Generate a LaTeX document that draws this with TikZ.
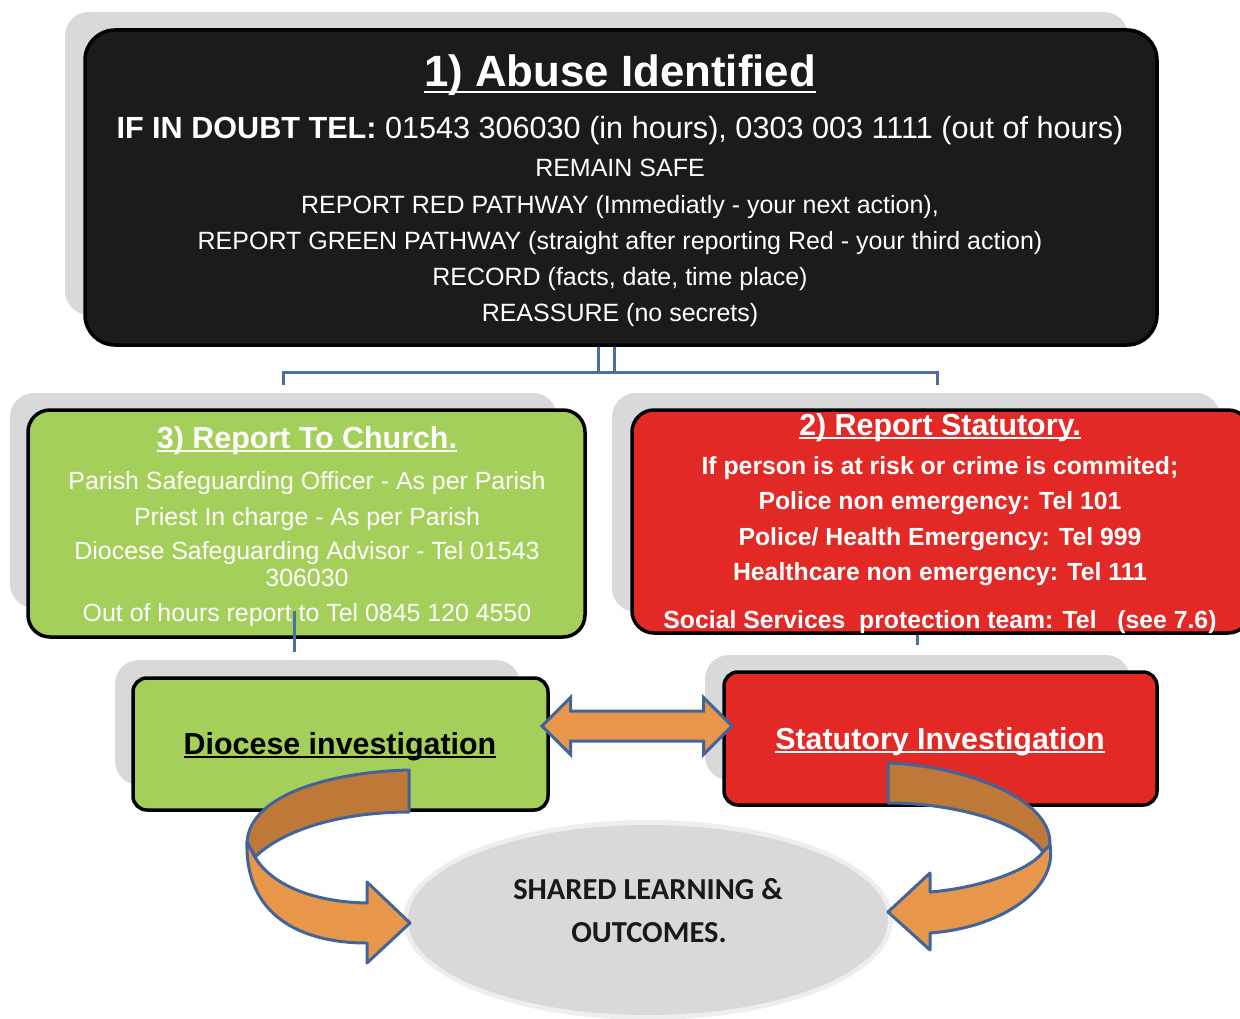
\documentclass[tikz,border=0pt]{standalone}
\usepackage{fontspec}
\setmainfont{Liberation Sans}
\newfontfamily\roundfont{Carlito}
\usetikzlibrary{positioning,shapes.geometric,shapes.arrows}
\definecolor{ink}{HTML}{1B1B1B}
\definecolor{leaf}{HTML}{A5CF5B}
\definecolor{alarm}{HTML}{E32925}
\definecolor{wire}{HTML}{4A6FA5}
\definecolor{shade}{HTML}{D9D9D9}
\definecolor{peach}{HTML}{E8964A}
\definecolor{rust}{HTML}{BE7838}
\definecolor{rim}{HTML}{41659A}
\tikzstyle{shadowbox}=[fill=shade, rounded corners=24pt, inner sep=0]
\tikzstyle{panel}=[draw=black, line width=3.5pt, rounded corners=22pt, inner sep=0]
\tikzstyle{link}=[draw=wire, line width=3pt]
\tikzstyle{ribbon}=[draw=rim, line width=3pt, line join=round]
\tikzstyle{say}=[inner sep=0, anchor=base, text=white]
\newcommand{\fsz}[1]{\fontsize{#1pt}{#1pt}\selectfont}
\newcommand{\headline}[1]{\setbox0\hbox{#1}\rlap{\rule[-0.14em]{\wd0}{0.06em}}\box0}

\begin{document}
\begin{tikzpicture}[x=1pt,y=-1pt]
    \useasboundingbox (0,0) rectangle (1240,1019);
    % shadows behind the boxes
    \node[shadowbox, minimum width=1063pt, minimum height=303pt] (abuseshade) at (596.5,163.5) {};
    \node[shadowbox, minimum width=547pt, minimum height=215pt] (churchshade) at (283.5,500.5) {};
    \node[shadowbox, minimum width=608pt, minimum height=219pt] (statshade) at (916,502.5) {};
    \node[shadowbox, minimum width=405pt, minimum height=125pt] (dioceseshade) at (317.5,722.5) {};
    \node[shadowbox, minimum width=425pt, minimum height=125pt] (statinvshade) at (917.5,717.5) {};
    % boxes
    \node[panel, fill=ink, rounded corners=30pt, minimum width=1072pt, minimum height=315pt] (abuse) at (621,187.5) {};
    \node[panel, fill=leaf, minimum width=557pt, minimum height=227pt] (church) at (306.5,523.5) {};
    \node[panel, fill=alarm, minimum width=618pt, minimum height=223pt] (statutory) at (941,521.5) {};
    \node[panel, fill=leaf, rounded corners=14pt, minimum width=415pt, minimum height=132pt] (diocese) at (340.5,744) {};
    \node[panel, fill=alarm, rounded corners=14pt, minimum width=433pt, minimum height=133pt] (statinv) at (940.5,738.5) {};
    % connectors
    \coordinate (lfoot) at (283,385);
    \coordinate (rfoot) at (937,385);
    \coordinate (cdrop) at (294,652);
    \coordinate (sdrop) at (917,645);
    \draw[link] ([xshift=-23pt]abuse.south) -- ++(0,27);
    \draw[link] ([xshift=-7pt]abuse.south) -- ++(0,27);
    \draw[link] (lfoot) -- ++(0,-13) -| (rfoot);
    \draw[link] ([yshift=28pt]church.south -| cdrop) -- (cdrop);
    \draw[link] (statutory.south -| sdrop) -- (sdrop);
    % 1) abuse identified
    \node[say, font=\bfseries\fsz{43.8}] (abusehead) at (620,87) {\headline{1) Abuse Identified}};
    \node[say, font=\fsz{30.6}] (doubt) at (620,139) {\textbf{IF IN DOUBT TEL:} 01543 306030 (in hours), 0303 003 1111 (out of hours)};
    \node[say, font=\fsz{25}] (safe) at (620,177) {REMAIN SAFE};
    \node[say, font=\fsz{25}] (redpath) at (620,214) {REPORT RED PATHWAY (Immediatly - your next action),};
    \node[say, font=\fsz{25}] (greenpath) at (620,250) {REPORT GREEN PATHWAY (straight after reporting Red - your third action)};
    \node[say, font=\fsz{25}] (record) at (620,285) {RECORD (facts, date, time place)};
    \node[say, font=\fsz{25}] (reassure) at (620,321) {REASSURE (no secrets)};
    % 3) report to church
    \node[say, font=\bfseries\fsz{30.4}] (churchhead) at (307,448) {\headline{3) Report To Church.}};
    \node[say, font=\fsz{24.9}] (officer) at (307,489) {Parish Safeguarding Officer - As per Parish};
    \node[say, font=\fsz{24.9}] (priest) at (307,525) {Priest In charge - As per Parish};
    \node[say, font=\fsz{24.9}] (advisor) at (307,559) {Diocese Safeguarding Advisor - Tel 01543};
    \node[say, font=\fsz{24.9}] (advisortel) at (307,586) {306030};
    \node[say, font=\fsz{24.9}] (outhours) at (307,621) {Out of hours report to Tel 0845 120 4550};
    % 2) report statutory
    \node[say, font=\bfseries\fsz{30.4}] (stathead) at (940,435) {\headline{2) Report Statutory.}};
    \node[say, font=\bfseries\fsz{24.8}] (risk) at (940,474) {If person is at risk or crime is commited;};
    \node[say, font=\bfseries\fsz{24.8}] (police) at (940,509) {Police non emergency: Tel 101};
    \node[say, font=\bfseries\fsz{24.8}] (emergency) at (940,545) {Police/ Health Emergency: Tel 999};
    \node[say, font=\bfseries\fsz{24.8}] (health) at (940,580) {Healthcare non emergency: Tel 111};
    \node[say, font=\bfseries\fsz{24.8}] (social) at (940,628) {Social Services\ \ protection team: Tel\ \ \ (see 7.6)};
    % investigations
    \node[say, text=black, font=\bfseries\fsz{30.4}] (diocesetext) at (340,754) {\headline{Diocese investigation}};
    \node[say, font=\bfseries\fsz{30.4}] (statinvtext) at (940,749) {\headline{Statutory Investigation}};
    \node[double arrow, draw=rim, fill=peach, line width=3pt, inner sep=0, inner ysep=13.5pt,
      double arrow head extend=13.5pt, minimum height=190pt] (bothways) at (637,726) {};
    % shared learning
    \node[ellipse, fill=shade!45, minimum width=490pt, minimum height=200pt] (sharedhalo) at (648,920) {};
    \node[ellipse, fill=shade, minimum width=480pt, minimum height=190pt] (shared) at (648,920) {};
    \node[say, text=black!90, font=\roundfont\bfseries\fsz{30.5}] (sharedtop) at (648,899) {SHARED LEARNING \&};
    \node[say, text=black!90, font=\roundfont\bfseries\fsz{30.5}] (sharedbottom) at (649,942) {OUTCOMES.};
    % curved arrows
    \path[ribbon, fill=rust] (409,770) .. controls (330,772) and (250,795) .. (247,842)
      -- (255,857) .. controls (285,828) and (345,812) .. (409,812) -- cycle;
    \path[ribbon, fill=peach] (247,842) .. controls (245,915) and (300,943) .. (367,943)
      -- (367,963) -- (410,923) -- (367,882) -- (367,903)
      .. controls (310,902) and (270,883) .. (255,857) -- cycle;
    \path[ribbon, fill=rust] (888,763) .. controls (955,765) and (1052,795) .. (1050,845)
      -- (1043,852) .. controls (1020,820) and (950,803) .. (888,803) -- cycle;
    \path[ribbon, fill=peach] (1050,845) .. controls (1058,890) and (1000,928) .. (930,933)
      -- (930,950) -- (888,912) -- (930,873) -- (930,892)
      .. controls (980,888) and (1030,870) .. (1043,852) -- cycle;
\end{tikzpicture}
\end{document}
